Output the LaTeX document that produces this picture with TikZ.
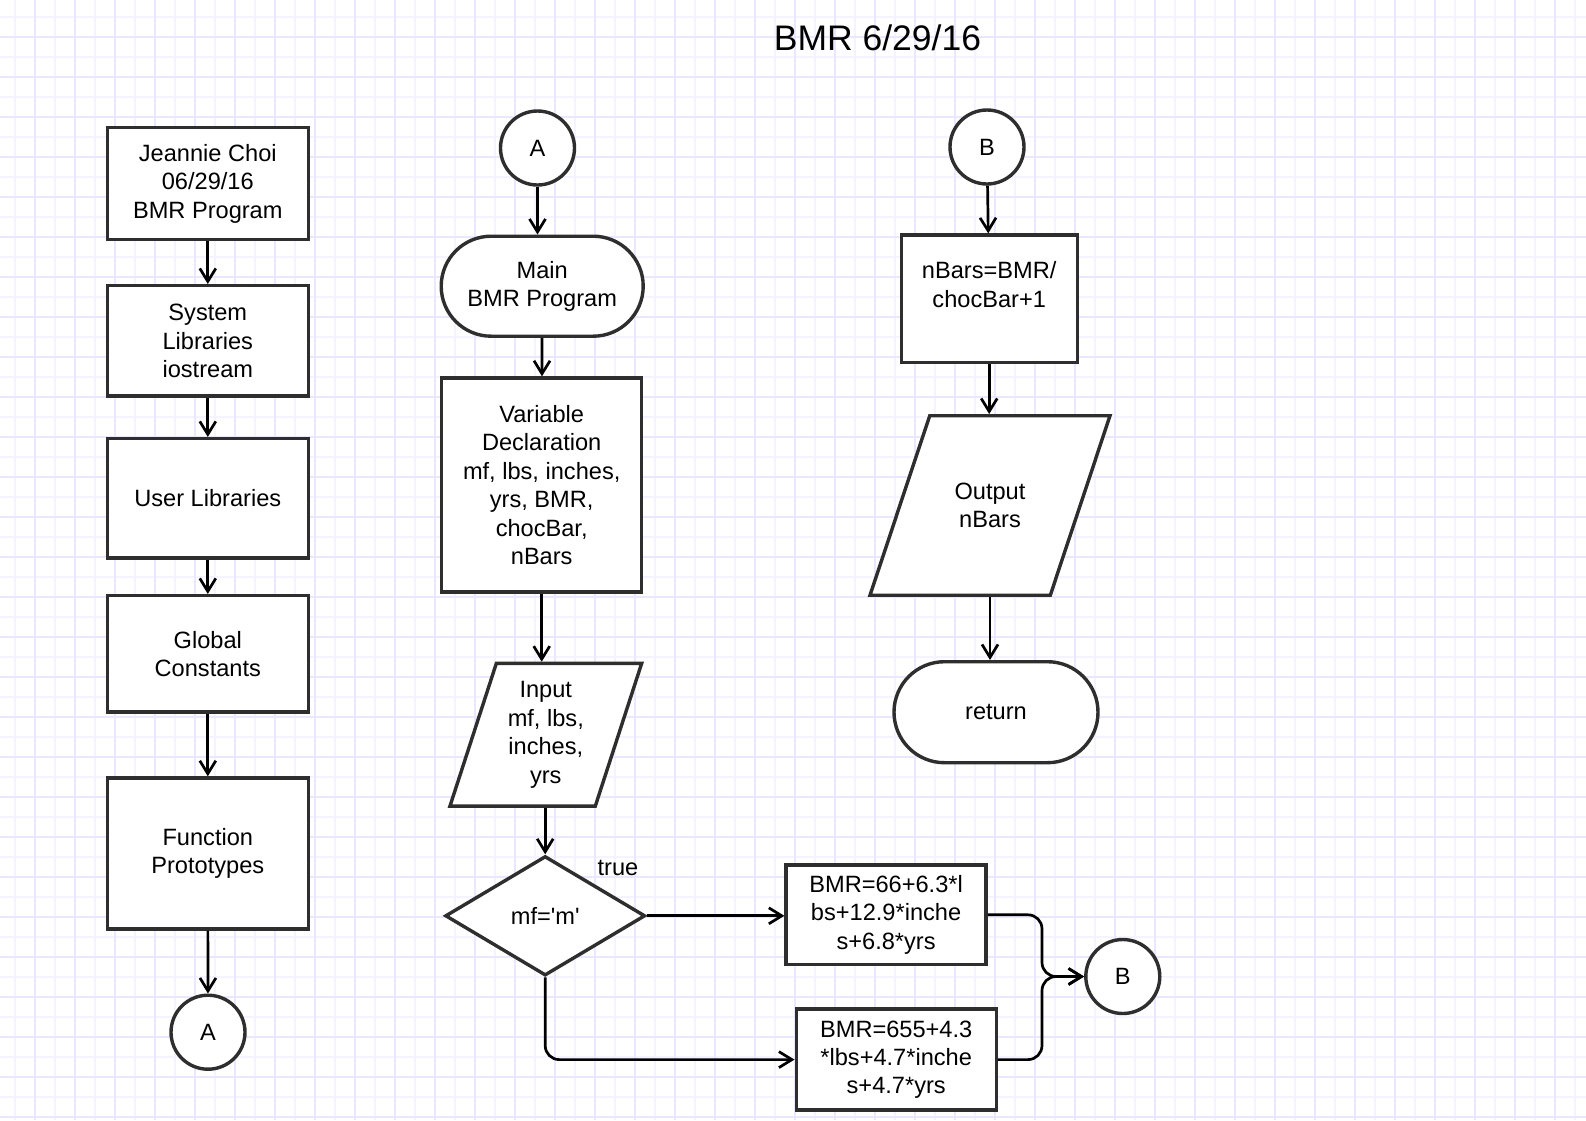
\documentclass[tikz,border=0pt]{standalone}
\usepackage{fontspec}
\setmainfont{Liberation Sans}
\usetikzlibrary{shapes,arrows.meta,positioning}
\definecolor{gridminor}{HTML}{F5F3FF}
\definecolor{gridmajor}{HTML}{EAE7FE}
\definecolor{boxline}{HTML}{2E2E2E}

\begin{document}
\begin{tikzpicture}
	[
		x=0.5pt, y=-0.5pt,
		every node/.style={font=\fontsize{11.8}{14.2}\selectfont, align=center, inner sep=0pt},
		rectanglenode/.style={rectangle, draw=boxline, fill=white, line width=1.7pt},
		roundnode/.style={circle, draw=boxline, fill=white, line width=1.7pt, minimum size=37pt},
		terminalnode/.style={rounded rectangle, draw=boxline, fill=white, line width=1.7pt},
		ionode/.style={trapezium, trapezium stretches body, draw=boxline, fill=white, line width=1.7pt},
		decisionnode/.style={diamond, draw=boxline, fill=white, line width=1.7pt, minimum width=100pt, minimum height=59.75pt},
		flowline/.style={line width=1.35pt, -{Straight Barb[length=6.5pt, width=8pt]}},
	]

	\useasboundingbox (0,0) rectangle (1586,1120);
	\fill[white] (0,0) rectangle (1586,1120);
	\foreach \k in {0,...,79} \draw[gridminor, line width=0.8pt] (15+20*\k,0) -- (15+20*\k,1120);
	\foreach \k in {0,...,55} \draw[gridminor, line width=0.8pt] (0,16.7+20*\k) -- (1586,16.7+20*\k);
	\foreach \k in {0,...,39} \draw[gridmajor, line width=0.8pt] (35+40*\k,0) -- (35+40*\k,1120);
	\foreach \k in {0,...,27} \draw[gridmajor, line width=0.8pt] (0,36.7+40*\k) -- (1586,36.7+40*\k);

	\node [anchor=base, font=\fontsize{17.75}{21}\selectfont] (titletext) at (877.5,50) {BMR 6/29/16};

	\node [rectanglenode, minimum width=100.5pt, minimum height=55.8pt] (header) at (207.8,183.5) {Jeannie Choi\\06/29/16\\BMR Program};
	\node [rectanglenode, minimum width=100.5pt, minimum height=55.2pt] (syslib) at (207.8,340.9) {System\\Libraries\\iostream};
	\node [rectanglenode, minimum width=100.5pt, minimum height=59.75pt] (userlib) at (207.8,498.4) {User Libraries};
	\node [rectanglenode, minimum width=100.5pt, minimum height=58.25pt] (globconst) at (207.8,653.9) {Global\\Constants};
	\node [rectanglenode, minimum width=100.5pt, minimum height=75.5pt] (prototypes) at (207.8,853.5) {Function\\Prototypes};
	\node [roundnode] (linkaout) at (208,1032.2) {A};

	\node [roundnode] (linkain) at (537.5,148) {A};
	\node [terminalnode, minimum width=101pt, minimum height=50pt] (mainprog) at (542.2,286.2) {Main\\BMR Program};
	\node [rectanglenode, minimum width=100pt, minimum height=107pt] (vardecl) at (541.7,485) {Variable\\Declaration\\mf, lbs, inches,\\yrs, BMR,\\chocBar,\\nBars};
	\node [ionode, inner ysep=9.1pt, trapezium left angle=72, trapezium right angle=108, minimum width=95.85pt] (input) at (545.8,734.8) {Input\\mf, lbs,\\inches,\\yrs};
	\node [decisionnode] (decision) at (545.2,915.8) {mf=\textquotesingle m\textquotesingle};
	\node (truetext) at (618,868) {true};
	\node [rectanglenode, minimum width=100pt, minimum height=49.65pt] (bmrmale) at (886.1,914.8) {BMR=66+6.3*l\\bs+12.9*inche\\s+6.8*yrs};
	\node [rectanglenode, minimum width=100pt, minimum height=50.5pt] (bmrfemale) at (896.2,1059.6) {BMR=655+4.3\\*lbs+4.7*inche\\s+4.7*yrs};
	\node [roundnode] (linkbout) at (1122.8,976.5) {B};
	\coordinate (merge) at (1042,976.5);

	\node [roundnode] (linkbin) at (987,147) {B};
	\node [rectanglenode, minimum width=88pt, minimum height=63.65pt] (nbars) at (989.2,298.7) {nBars=BMR/\\chocBar+1\\\mbox{}};
	\node [ionode, inner ysep=33.6pt, trapezium left angle=71.6, trapezium right angle=108.4, minimum width=120pt] (output) at (990,505.5) {Output\\nBars};
	\node [terminalnode, minimum width=102pt, minimum height=50.5pt] (returnprog) at (996,712.2) {return};

	\draw[flowline] (header) -- (syslib);
	\draw[flowline] (syslib) -- (userlib);
	\draw[flowline] (userlib) -- (globconst);
	\draw[flowline] (globconst) -- (prototypes);
	\draw[flowline] (prototypes) -- (linkaout);

	\draw[flowline] (linkain.south) -- (linkain.south |- mainprog.north);
	\draw[flowline] (mainprog) -- (vardecl);
	\draw[flowline] (vardecl.south) -- (vardecl.south |- input.north);
	\draw[flowline] (decision.north |- input.south) -- (decision.north);
	\draw[flowline] (decision.east) -- (decision.east -| bmrmale.west);
	\draw[flowline, rounded corners=7pt] (decision.south) |- (bmrfemale.west);
	\draw[flowline, rounded corners=7pt] (bmrmale.east) -| (merge) -- (linkbout.west);
	\draw[flowline, rounded corners=7pt] (bmrfemale.east) -| (merge) -- (linkbout.west);

	\draw[flowline] (linkbin) -- (nbars);
	\draw[flowline] (nbars.south) -- (nbars.south |- output.north);
	\draw[flowline] (output.south) -- (output.south |- returnprog.north);
\end{tikzpicture}
\end{document}
